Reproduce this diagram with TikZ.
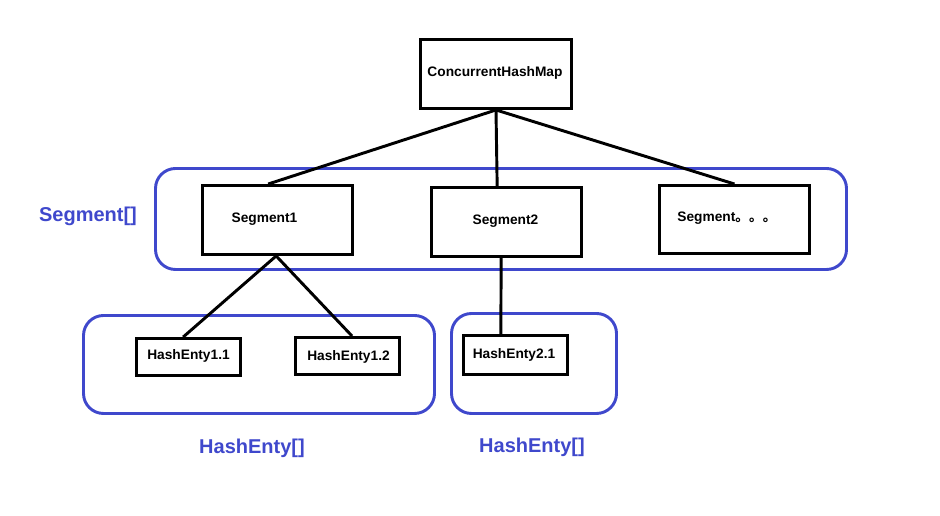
\documentclass[tikz,border=0pt]{standalone}
\usepackage{fontspec}
\setmainfont{Liberation Sans}
\newfontfamily\cjkf{Noto Sans CJK SC}
\definecolor{grpblue}{RGB}{63,72,204}
\begin{document}
\begin{tikzpicture}[x=0.75pt,y=-0.75pt,
  box/.style={draw=black,line width=2.2pt,inner sep=0pt},
  grp/.style={draw=grpblue,line width=2.2pt,rounded corners=15pt,inner sep=0pt},
  txt/.style={font=\fontsize{10.3}{12}\selectfont\bfseries,inner sep=0pt,anchor=center},
  btxt/.style={font=\fontsize{15}{18}\selectfont\bfseries,text=grpblue,inner sep=0pt},
  link/.style={line width=2.2pt,draw=black}]
\useasboundingbox (0,0) rectangle (940,516);
% groups
\node[grp,minimum width=518.25pt,minimum height=75.75pt] (gseg) at (501,219) {};
\node[grp,minimum width=263.25pt,minimum height=73.5pt] (ghe1) at (259,364.5) {};
\node[grp,minimum width=123.75pt,minimum height=75pt] (ghe2) at (534,363.5) {};
% boxes
\node[box,minimum width=113.25pt,minimum height=51.75pt] (chm) at (496,74) {};
\node[box,minimum width=112.5pt,minimum height=51.75pt] (s1) at (277.5,220) {};
\node[box,minimum width=112.5pt,minimum height=51.75pt] (s2) at (506.5,222) {};
\node[box,minimum width=112.5pt,minimum height=51pt] (s3) at (734.5,219.5) {};
\node[box,minimum width=78pt,minimum height=27.75pt] (h11) at (188.5,357) {};
\node[box,minimum width=78pt,minimum height=27.75pt] (h12) at (347.5,356) {};
\node[box,minimum width=78pt,minimum height=29.25pt] (h21) at (515.5,355) {};
% texts
\node[txt] (chmt) at (495,73) {ConcurrentHashMap};
\node[txt] (s1t) at (264.5,219) {Segment1};
\node[txt] (s2t) at (505.5,221) {Segment2};
\node[txt] (s3t) at (727,218) {Segment{\cjkf 。。。}};
\node[txt] (h11t) at (188.5,356) {HashEnty1.1};
\node[txt] (h12t) at (348.5,357) {HashEnty1.2};
\node[txt] (h21t) at (514,355) {HashEnty2.1};
\node[btxt] (segl) at (88,216) {Segment[]};
\node[btxt] (hel1) at (252,448) {HashEnty[]};
\node[btxt] (hel2) at (532,447) {HashEnty[]};
% links
\draw[link] (chm.south) -- ([xshift=-7pt]s1.north);
\draw[link] (chm.south) -- ([xshift=-7pt]s2.north);
\draw[link] (chm.south) -- (s3.north);
\draw[link] ([xshift=-1pt]s1.south) -- ([xshift=-4pt]h11.north);
\draw[link] ([xshift=-1pt]s1.south) -- ([xshift=3.4pt]h12.north);
\draw[link] ([xshift=-4pt]s2.south) -- ([xshift=-11pt]h21.north);
\end{tikzpicture}
\end{document}
